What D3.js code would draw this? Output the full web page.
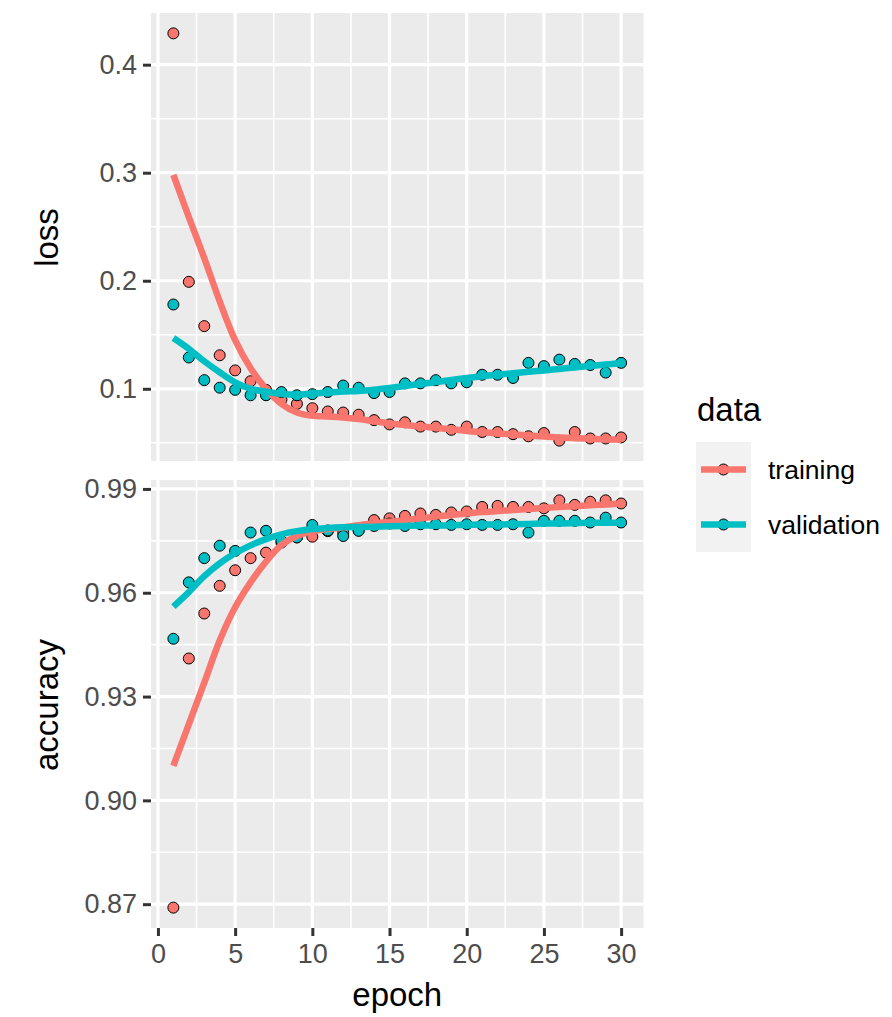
<!DOCTYPE html>
<html>
<head>
<meta charset="utf-8">
<script src="https://cdn.jsdelivr.net/npm/d3@7"></script>
<style>
  body { margin: 0; background: #fff; }
  text { font-family: "Liberation Sans", Arial, sans-serif; }
</style>
</head>
<body>
<div id="chart"></div>
<script>
// data
const epochs = d3.range(1, 31);

const trainLoss = [0.429, 0.199, 0.158, 0.131, 0.117, 0.107, 0.099, 0.090, 0.086, 0.082,
  0.079, 0.078, 0.076, 0.071, 0.067, 0.069, 0.065, 0.065, 0.062, 0.065,
  0.060, 0.060, 0.058, 0.056, 0.059, 0.052, 0.060, 0.054, 0.054, 0.055];
const valLoss = [0.178, 0.129, 0.108, 0.101, 0.099, 0.094, 0.094, 0.097, 0.094, 0.095,
  0.097, 0.103, 0.101, 0.096, 0.097, 0.105, 0.105, 0.108, 0.105, 0.106,
  0.113, 0.113, 0.110, 0.124, 0.121, 0.127, 0.123, 0.122, 0.115, 0.124];
const trainAcc = [0.869, 0.941, 0.954, 0.962, 0.9665, 0.970, 0.9716, 0.9745, 0.976, 0.9762,
  0.9778, 0.9774, 0.978, 0.981, 0.9815, 0.9822, 0.9829, 0.9825, 0.9832, 0.9835,
  0.9848, 0.9851, 0.9848, 0.9848, 0.9844, 0.9867, 0.9854, 0.9863, 0.9867, 0.9858];
const valAcc = [0.9467, 0.963, 0.970, 0.9736, 0.9721, 0.9774, 0.9779, 0.975, 0.976, 0.9796,
  0.978, 0.9764, 0.9779, 0.9793, 0.980, 0.9793, 0.9798, 0.9798, 0.9796, 0.9798,
  0.9796, 0.9796, 0.9798, 0.9774, 0.9808, 0.9808, 0.9808, 0.9803, 0.9817, 0.9803];

// smoothed curves (geom_smooth), read at each epoch
const trainLossSmooth = [0.298, 0.259, 0.221, 0.181, 0.145, 0.119, 0.100, 0.086, 0.078, 0.075,
  0.0744, 0.0735, 0.072, 0.070, 0.068, 0.0665, 0.065, 0.0638, 0.0625, 0.061,
  0.0598, 0.0587, 0.0577, 0.0567, 0.0558, 0.055, 0.0543, 0.0537, 0.0532, 0.0528];
const valLossSmooth = [0.147, 0.137, 0.1255, 0.1153, 0.106, 0.100, 0.0972, 0.0952, 0.0945, 0.0955,
  0.0965, 0.0975, 0.098, 0.0992, 0.1008, 0.1026, 0.1045, 0.1063, 0.1081, 0.110,
  0.1117, 0.113, 0.1144, 0.1157, 0.117, 0.1184, 0.1198, 0.1211, 0.1225, 0.1238];
const trainAccSmooth = [0.910, 0.922, 0.934, 0.9462, 0.9558, 0.9630, 0.9690, 0.9738, 0.9764, 0.9778,
  0.9784, 0.9789, 0.9795, 0.9801, 0.9805, 0.981, 0.9815, 0.982, 0.9825, 0.9829,
  0.9833, 0.9836, 0.9839, 0.9842, 0.9845, 0.9848, 0.985, 0.9853, 0.9855, 0.9858];
const valAccSmooth = [0.956, 0.9602, 0.9648, 0.9685, 0.9714, 0.9737, 0.9755, 0.9769, 0.9778, 0.9784,
  0.9787, 0.9789, 0.979, 0.9791, 0.9792, 0.9793, 0.9794, 0.9794, 0.9795, 0.9796,
  0.9797, 0.9797, 0.9798, 0.9799, 0.980, 0.980, 0.9801, 0.9802, 0.9802, 0.9803];

const seriesNames = ["training", "validation"];
const xTicks = [0, 5, 10, 15, 20, 25, 30];
const lossTicks = [0.1, 0.2, 0.3, 0.4];
const accTicks = [0.87, 0.90, 0.93, 0.96, 0.99];

//sizing
const W = 892, H = 1017;
const panelL = 151, panelR = 643.5;
const panels = [
  { name: "loss", top: 13, bottom: 461, vals: [trainLoss, valLoss], smooth: [trainLossSmooth, valLossSmooth],
    ticks: lossTicks, fmt: d3.format(".1f"), titleY: 237.5 },
  { name: "accuracy", top: 480, bottom: 928, vals: [trainAcc, valAcc], smooth: [trainAccSmooth, valAccSmooth],
    ticks: accTicks, fmt: d3.format(".2f"), titleY: 705 }
];
const colors = d3.scaleOrdinal().domain(seriesNames).range(["#F8766D", "#00BFC4"]);

// ggplot style 5% expansion
function expand(ext) {
  const r = ext[1] - ext[0];
  return [ext[0] - 0.05 * r, ext[1] + 0.05 * r];
}

const svg = d3.select("#chart").append("svg")
  .attr("width", W).attr("height", H);

const x = d3.scaleLinear().domain(expand(d3.extent(epochs))).range([panelL, panelR]);

panels.forEach(p => {
  const all = p.vals[0].concat(p.vals[1]);
  const y = d3.scaleLinear().domain(expand(d3.extent(all))).range([p.bottom, p.top]);
  const g = svg.append("g");

  g.append("rect")
    .attr("x", panelL).attr("y", p.top)
    .attr("width", panelR - panelL).attr("height", p.bottom - p.top)
    .attr("fill", "#EBEBEB");

  // minor grid
  const step = p.ticks[1] - p.ticks[0];
  const yMinor = [p.ticks[0] - step / 2].concat(p.ticks.map(t => t + step / 2))
    .filter(v => y(v) >= p.top && y(v) <= p.bottom);
  const xMinor = xTicks.slice(1).map((t, i) => (t + xTicks[i]) / 2);

  g.selectAll(".ymin").data(yMinor).enter().append("line")
    .attr("x1", panelL).attr("x2", panelR)
    .attr("y1", d => y(d)).attr("y2", d => y(d))
    .attr("stroke", "#fff").attr("stroke-width", 1.6);
  g.selectAll(".xmin").data(xMinor).enter().append("line")
    .attr("x1", d => x(d)).attr("x2", d => x(d))
    .attr("y1", p.top).attr("y2", p.bottom)
    .attr("stroke", "#fff").attr("stroke-width", 1.6);

  // major grid
  g.selectAll(".ymaj").data(p.ticks).enter().append("line")
    .attr("x1", panelL).attr("x2", panelR)
    .attr("y1", d => y(d)).attr("y2", d => y(d))
    .attr("stroke", "#fff").attr("stroke-width", 3.2);
  g.selectAll(".xmaj").data(xTicks).enter().append("line")
    .attr("x1", d => x(d)).attr("x2", d => x(d))
    .attr("y1", p.top).attr("y2", p.bottom)
    .attr("stroke", "#fff").attr("stroke-width", 3.2);

  // y axis
  const yAxis = g.append("g")
    .attr("transform", `translate(${panelL},0)`)
    .call(d3.axisLeft(y).tickValues(p.ticks).tickFormat(p.fmt).tickSize(8).tickPadding(6));
  yAxis.select(".domain").remove();
  yAxis.selectAll(".tick line").attr("stroke", "#333").attr("stroke-width", 3);
  yAxis.selectAll(".tick text")
    .attr("fill", "#4D4D4D")
    .style("font-size", "27px")
    .style("font-family", "'Liberation Sans', Arial, sans-serif");

  // axis title
  g.append("text")
    .attr("transform", `translate(58,${p.titleY}) rotate(-90)`)
    .attr("text-anchor", "middle")
    .style("font-size", "33px")
    .attr("fill", "#000")
    .text(p.name);

  // points
  seriesNames.forEach((s, i) => {
    g.selectAll(".pt" + i).data(epochs).enter().append("circle")
      .attr("cx", d => x(d))
      .attr("cy", (d, j) => y(p.vals[i][j]))
      .attr("r", 5.5)
      .attr("fill", colors(s))
      .attr("stroke", "#000")
      .attr("stroke-width", 1);
  });

  // smooth lines
  seriesNames.forEach((s, i) => {
    const line = d3.line()
      .x(d => x(d))
      .y((d, j) => y(p.smooth[i][j]))
      .curve(d3.curveCatmullRom);
    g.append("path")
      .datum(epochs)
      .attr("d", line)
      .attr("fill", "none")
      .attr("stroke", colors(s))
      .attr("stroke-width", 6.5);
  });
});

// x axis under bottom panel
const xAxis = svg.append("g")
  .attr("transform", `translate(0,${panels[1].bottom})`)
  .call(d3.axisBottom(x).tickValues(xTicks).tickSize(8).tickPadding(8));
xAxis.select(".domain").remove();
xAxis.selectAll(".tick line").attr("stroke", "#333").attr("stroke-width", 3);
xAxis.selectAll(".tick text")
  .attr("fill", "#4D4D4D")
  .style("font-size", "27px")
  .style("font-family", "'Liberation Sans', Arial, sans-serif");

svg.append("text")
  .attr("x", (panelL + panelR) / 2)
  .attr("y", 1006)
  .attr("text-anchor", "middle")
  .style("font-size", "33px")
  .text("epoch");

// legend
const lg = svg.append("g");
lg.append("text")
  .attr("x", 697).attr("y", 421)
  .style("font-size", "33px")
  .text("data");

const keyX = 696, keyY = 442, keyW = 55, keyH = 55;
seriesNames.forEach((s, i) => {
  const cy = keyY + keyH * i + keyH / 2;
  lg.append("rect")
    .attr("x", keyX).attr("y", keyY + keyH * i)
    .attr("width", keyW).attr("height", keyH)
    .attr("fill", "#F2F2F2");
  lg.append("circle")
    .attr("cx", keyX + keyW / 2).attr("cy", cy).attr("r", 5.5)
    .attr("fill", colors(s)).attr("stroke", "#000").attr("stroke-width", 1);
  lg.append("line")
    .attr("x1", keyX + 5).attr("x2", keyX + keyW - 5)
    .attr("y1", cy).attr("y2", cy)
    .attr("stroke", colors(s)).attr("stroke-width", 6.5);
  lg.append("text")
    .attr("x", 768).attr("y", cy)
    .attr("dy", "0.35em")
    .style("font-size", "26.5px")
    .text(s);
});
</script>
</body>
</html>
